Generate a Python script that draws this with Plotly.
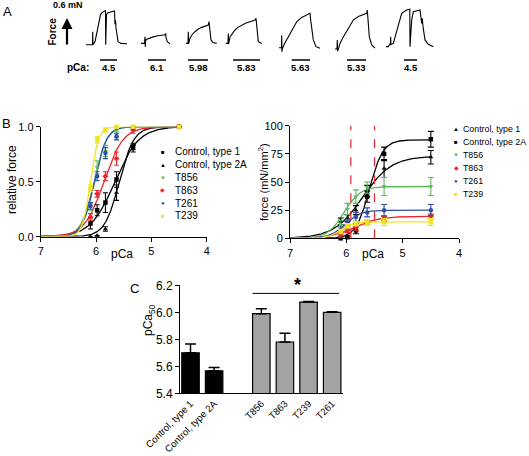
import numpy as np
import plotly.graph_objects as go

W, H = 529, 456
FONT = "Arial, Liberation Sans, sans-serif"

# ---------------- Panel A: force recordings (time in s, force in mN) ----------------
trace_pCa_labels = ["4.5", "6.1", "5.98", "5.83", "5.63", "5.33", "4.5"]
trace_t = [
    [86, 90, 92.5, 92.7, 92.9, 95, 97, 99, 100.5, 102, 104, 105.5, 105.7, 105.9, 106.5, 108, 111, 113.5, 114.5, 115, 115.5, 116, 117, 118, 121, 127],
    [141, 144.5, 145, 145.3, 145.6, 146.7, 150, 153.3, 158, 163.3, 165, 165.6, 166, 167.3, 170],
    [186, 188, 188.3, 188.6, 190, 192, 195, 198, 201.7, 205, 208.3, 209, 209.5, 211, 213, 216.7],
    [226, 228, 228.3, 228.6, 230, 232, 235, 238, 241.7, 246, 250, 255, 256, 256.5, 258.3, 261.7],
    [279, 281.5, 281.7, 281.9, 282.5, 284.5, 286.7, 289, 291.7, 294, 296.7, 301.7, 306.7, 310, 310.7, 311.5, 313.3, 316, 320],
    [335, 337, 337.3, 337.6, 338.5, 340, 343.3, 348.3, 353.3, 358.3, 363.3, 366.7, 367.3, 367.8, 369.3, 371.7, 375],
    [386, 388.3, 390.5, 390.7, 390.9, 393.3, 395, 398.3, 401.7, 406.7, 409.3, 409.8, 410, 411.7, 413.3, 417, 420, 421.7, 422.3, 423, 425, 428.3, 433.3],
]
trace_F = [
    [0.03, 0.03, 0.03, 0.33, 0.03, 0.10, 0.35, 0.62, 0.72, 0.77, 0.81, 0.82, 0.03, 0.60, 0.73, 0.77, 0.79, 0.81, 0.81, 0.50, 0.60, 0.42, 0.20, 0.10, 0.06, 0.05],
    [0.06, 0.06, 0.21, -0.02, 0.12, 0.155, 0.185, 0.21, 0.235, 0.254, 0.26, 0.29, 0.20, 0.10, 0.05],
    [0.06, 0.06, 0.33, 0.05, 0.18, 0.26, 0.33, 0.385, 0.43, 0.46, 0.485, 0.56, 0.40, 0.14, 0.08, 0.06],
    [0.06, 0.06, 0.29, 0.04, 0.21, 0.28, 0.37, 0.43, 0.485, 0.53, 0.56, 0.60, 0.64, 0.50, 0.10, 0.06],
    [-0.04, -0.04, 0.25, -0.13, -0.05, 0.05, 0.14, 0.26, 0.37, 0.47, 0.56, 0.66, 0.716, 0.755, 0.60, 0.44, 0.14, -0.015, -0.05],
    [-0.07, -0.07, 0.14, -0.12, -0.06, 0.06, 0.21, 0.41, 0.60, 0.68, 0.716, 0.755, 0.83, 0.60, 0.21, 0.023, -0.05],
    [-0.015, -0.015, 0.06, 0.21, 0.03, 0.06, 0.21, 0.52, 0.755, 0.83, 0.85, 0.85, -0.015, 0.60, 0.79, 0.82, 0.83, 0.52, 0.64, 0.45, 0.14, 0.04, -0.015],
]
# solution application periods (s)
sol_start = [100, 148, 188, 233, 291.7, 347, 404]
sol_end = [117, 166, 208, 260, 310, 366, 417]

# ---------------- Panel B ----------------
pCa = [6.1, 5.98, 5.83, 5.63, 5.33, 4.5]
series_names = ["Control, type 1", "Control, type 2A", "T856", "T863", "T261", "T239"]
series_colors = ["#000000", "#000000", "#5cb85c", "#e8262b", "#2e4fa3", "#f2e420"]
left_symbols = ["square", "triangle-up", "triangle-down", "diamond", "circle", "square"]
left_glyphs = ["\u25a0", "\u25b2", "\u25bc", "\u25c6", "\u25cf", "\u25a0"]

rel_ctrl1 = [0.12, 0.24, 0.31, 0.52, 0.82, 1.0]
rel_ctrl2A = [0.0, 0.01, 0.07, 0.40, 0.80, 1.0]
rel_T856 = [0.27, 0.63, 0.78, 0.93, 1.0, 1.0]
rel_T863 = [0.18, 0.39, 0.55, 0.71, 0.97, 1.0]
rel_T261 = [0.28, 0.55, 0.76, 0.91, 0.99, 1.0]
rel_T239 = [0.44, 0.88, 0.97, 1.0, 1.0, 1.0]
rel_err_ctrl1 = [0.05, 0.05, 0.09, 0.07, 0.03, 0.0]
rel_err_ctrl2A = [0.0, 0.0, 0.02, 0.07, 0.03, 0.0]
rel_err_T856 = [0.03, 0.06, 0.05, 0.03, 0.01, 0.0]
rel_err_T863 = [0.03, 0.03, 0.04, 0.06, 0.03, 0.0]
rel_err_T261 = [0.03, 0.04, 0.05, 0.03, 0.01, 0.0]
rel_err_T239 = [0.03, 0.03, 0.02, 0.01, 0.0, 0.0]
# Hill fits (pCa50, nH)
rel_pCa50 = [5.66, 5.58, 6.04, 5.86, 6.03, 6.10]
rel_nH = [2.0, 3.3, 3.8, 2.5, 4.0, 6.0]

abs_ctrl1 = [15, 18, 25, 42, 62, 72]
abs_ctrl2A = [0, 1, 7, 37, 75, 88]
abs_T856 = [12, 26, 37, 45, 46, 46]
abs_T863 = [3, 7, 10, 14, 17.5, 19.5]
abs_T261 = [7, 14, 19, 23, 25, 25]
abs_T239 = [6, 11, 13, 14, 14.5, 14.5]
abs_err_ctrl1 = [3, 3, 4, 5, 8, 6]
abs_err_ctrl2A = [0, 1, 3, 5, 6, 7]
abs_err_T856 = [4, 5, 6, 5, 8, 8]
abs_err_T863 = [2, 2, 3, 2, 2, 2]
abs_err_T261 = [3, 3, 4, 4, 5, 5]
abs_err_T239 = [2, 2, 2, 2, 3, 3]
abs_Fmax = [73, 87.5, 46, 19.5, 25, 14.5]
abs_pCa50 = [5.71, 5.59, 6.04, 5.85, 6.02, 6.10]
abs_nH = [1.7, 3.6, 3.0, 2.0, 3.2, 4.0]
right_names = ["Control, type 1", "Control, type 2A", "T856", "T863", "T261", "T239"]
right_symbols = ["triangle-up", "square", "triangle-down", "diamond", "circle", "square"]
right_glyphs = ["\u25b2", "\u25a0", "\u25bc", "\u25c6", "\u25cf", "\u25a0"]
dashed_pCa = [5.92, 5.50]

# ---------------- Panel C ----------------
bar_labels = ["Control, type 1", "Control, type 2A", "T856", "T863", "T239", "T261"]
bar_slots = [0, 1, 3, 4, 5, 6]
bar_pCa50 = [5.70, 5.567, 5.99, 5.78, 6.076, 6.0]
bar_err = [0.065, 0.025, 0.037, 0.065, 0.004, 0.004]
bar_colors = ["#000000", "#000000", "#a3a3a3", "#a3a3a3", "#a3a3a3", "#a3a3a3"]

rel_vals = [rel_ctrl1, rel_ctrl2A, rel_T856, rel_T863, rel_T261, rel_T239]
rel_errs = [rel_err_ctrl1, rel_err_ctrl2A, rel_err_T856, rel_err_T863, rel_err_T261, rel_err_T239]
abs_vals = [abs_ctrl1, abs_ctrl2A, abs_T856, abs_T863, abs_T261, abs_T239]
abs_errs = [abs_err_ctrl1, abs_err_ctrl2A, abs_err_T856, abs_err_T863, abs_err_T261, abs_err_T239]


def hill(p, fmax, p50, n):
    p = np.asarray(p)
    return fmax / (1.0 + 10.0 ** (n * (p - p50)))


def px(x):
    return x / W


def py(y):
    return 1 - y / H


fig = go.Figure()
grid = np.linspace(7, 4.5, 300)

# Panel B left
for i in range(6):
    fig.add_trace(go.Scatter(x=grid, y=hill(grid, 1.0, rel_pCa50[i], rel_nH[i]), mode="lines",
                             line=dict(color=series_colors[i], width=1.3), xaxis="x", yaxis="y",
                             hoverinfo="skip", cliponaxis=False))
for i in range(6):
    fig.add_trace(go.Scatter(x=pCa, y=rel_vals[i], mode="markers",
                             marker=dict(symbol=left_symbols[i], size=4.5, color=series_colors[i]),
                             error_y=dict(type="data", array=rel_errs[i], width=2.5, thickness=1.1,
                                          color=series_colors[i]),
                             xaxis="x", yaxis="y", cliponaxis=False))

# Panel B right
for i in range(6):
    fig.add_trace(go.Scatter(x=grid, y=hill(grid, abs_Fmax[i], abs_pCa50[i], abs_nH[i]), mode="lines",
                             line=dict(color=series_colors[i], width=1.3), xaxis="x2", yaxis="y2",
                             hoverinfo="skip", cliponaxis=False))
for i in range(6):
    fig.add_trace(go.Scatter(x=pCa, y=abs_vals[i], mode="markers",
                             marker=dict(symbol=right_symbols[i], size=4.5, color=series_colors[i]),
                             error_y=dict(type="data", array=abs_errs[i], width=3, thickness=1.1,
                                          color=series_colors[i]),
                             xaxis="x2", yaxis="y2", cliponaxis=False))

# Panel C
fig.add_trace(go.Bar(x=bar_slots, y=bar_pCa50, width=0.74,
                     marker=dict(color=bar_colors, line=dict(color="black", width=1.2)),
                     error_y=dict(type="data", symmetric=False, array=bar_err, arrayminus=[0] * 6,
                                  width=5.5, thickness=1.5, color="black"),
                     xaxis="x3", yaxis="y3"))

# Panel A traces
for t, f in zip(trace_t, trace_F):
    fig.add_trace(go.Scatter(x=t, y=f, mode="lines", line=dict(color="black", width=1.1),
                             xaxis="x4", yaxis="y4", hoverinfo="skip"))
bar_level = -0.323
for s, e in zip(sol_start, sol_end):
    fig.add_trace(go.Scatter(x=[s, e], y=[bar_level, bar_level], mode="lines",
                             line=dict(color="black", width=1.5), xaxis="x4", yaxis="y4", hoverinfo="skip"))

axis_common = dict(showline=True, linecolor="black", linewidth=1, ticks="outside", ticklen=4,
                   tickcolor="black", tickwidth=1, showgrid=False, zeroline=False, automargin=False,
                   tickfont=dict(family=FONT, size=11, color="black"))

fig.update_layout(
    template="none",
    width=W, height=H, margin=dict(l=0, r=0, t=0, b=0, autoexpand=False),
    paper_bgcolor="white", plot_bgcolor="white", showlegend=False,
    font=dict(family=FONT, color="black"),
    xaxis=dict(domain=[px(40.7), px(206.7)], range=[7, 4], tickvals=[7, 6, 5, 4], anchor="y", **axis_common),
    yaxis=dict(domain=[py(236.7), py(126.7)], range=[0, 1], tickvals=[0, 0.5, 1],
               ticktext=["0.0", "0.5", "1.0"], anchor="x", **axis_common),
    xaxis2=dict(domain=[px(290), px(459)], range=[7, 4], tickvals=[7, 6, 5, 4], anchor="y2", **axis_common),
    yaxis2=dict(domain=[py(238.3), py(125.7)], range=[0, 100], tickvals=[0, 25, 50, 75, 100], anchor="x2",
                **axis_common),
    xaxis3=dict(domain=[px(180), px(343)], range=[-0.445, 6.46], tickvals=bar_slots, ticktext=bar_labels,
                tickangle=-45, anchor="y3",
                **{**axis_common, "ticks": "", "tickfont": dict(family=FONT, size=9.6, color="black")}),
    yaxis3=dict(domain=[py(393.3), py(285.3)], range=[5.4, 6.2], tickvals=[5.4, 5.6, 5.8, 6.0, 6.2],
                tickformat=".1f", anchor="x3",
                **{**axis_common, "tickfont": dict(family=FONT, size=12, color="black")}),
    xaxis4=dict(domain=[0, 1], range=[0, W], visible=False, anchor="y4", automargin=False),
    yaxis4=dict(domain=[py(75), 1], range=[-0.670, 1.062], visible=False, anchor="x4", automargin=False),
)

shapes = []
for d in dashed_pCa:
    shapes.append(dict(type="line", xref="x2", yref="y2 domain", x0=d, x1=d, y0=0, y1=1,
                       line=dict(color="#e8262b", width=1.2, dash="dash")))
# significance bracket
shapes.append(dict(type="line", xref="x3", yref="y3", x0=bar_slots[2] - 0.37, x1=bar_slots[5] + 0.3,
                   y0=6.14, y1=6.14, line=dict(color="black", width=1)))
fig.update_layout(shapes=shapes)

ann = []


def txt(x, y, s, size, angle=0, bold=False, xanchor="center", color="black"):
    ann.append(dict(x=px(x), y=py(y), xref="paper", yref="paper", text=("<b>%s</b>" % s) if bold else s,
                    showarrow=False, textangle=angle, xanchor=xanchor, yanchor="middle",
                    font=dict(family=FONT, size=size, color=color)))


# Panel letters
txt(7, 11, "A", 13)
txt(6, 124, "B", 13)
txt(134, 288, "C", 13)

# Panel A decorations
ann.append(dict(x=px(67), y=py(18), xref="paper", yref="paper", text="", showarrow=True,
                ax=0, ay=28, arrowhead=2, arrowsize=1, arrowwidth=2.2, arrowcolor="black"))
txt(67.5, 5, "0.6 mN", 9, bold=True)
txt(51.5, 32, "Force", 10, angle=-90, bold=True)
txt(78, 67.5, "pCa:", 10, bold=True)
for s, e, lab in zip(sol_start, sol_end, trace_pCa_labels):
    ann.append(dict(x=(s + e) / 2, y=-0.49, xref="x4", yref="y4", text="<b>%s</b>" % lab, showarrow=False,
                    font=dict(family=FONT, size=9.5, color="black")))

# Panel B titles
txt(12, 180, "relative force", 12, angle=-90)
txt(122, 254, "pCa", 12)
txt(263, 182, "force (mN/mm<sup>2</sup>)", 11, angle=-90)
txt(373, 254, "pCa", 12)

# manual legends
for i in range(6):
    y = 152 + 12.8 * i
    txt(162.5, y, left_glyphs[i], 6, color=series_colors[i])
    txt(173, y, series_names[i], 10, xanchor="left")
for i in range(6):
    y = 129.3 + 13 * i
    txt(456, y, right_glyphs[i], 6, color=series_colors[i])
    txt(461, y, right_names[i], 8.8, xanchor="left")

# Panel C
txt(149, 320, "pCa<sub>50</sub>", 12, angle=-90)
ann.append(dict(x=(bar_slots[2] + bar_slots[5]) / 2 + 0.05, y=6.2, xref="x3", yref="y3", text="<b>*</b>",
                showarrow=False, yanchor="middle", font=dict(family=FONT, size=18, color="black")))

fig.update_layout(annotations=ann)
fig.write_html("out.html", config={"displayModeBar": False},
               post_script="document.body.style.margin='0';document.body.style.overflow='hidden';")
